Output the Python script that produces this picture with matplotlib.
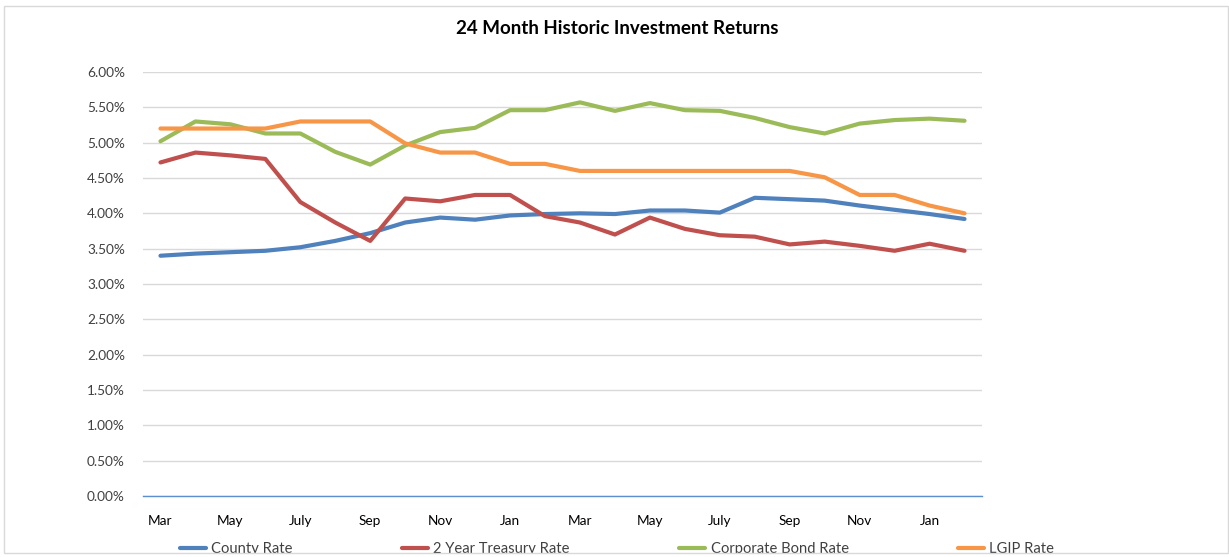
import matplotlib
matplotlib.use("Agg")
import matplotlib.pyplot as plt
from matplotlib.patches import Rectangle
from matplotlib.ticker import PercentFormatter

plt.rcParams['font.family'] = ['Lato', 'DejaVu Sans']

# 24 months, Mar .. Feb of the following year
months = ["Mar", "Apr", "May", "June", "July", "Aug", "Sep", "Oct", "Nov", "Dec", "Jan", "Feb",
          "Mar", "Apr", "May", "June", "July", "Aug", "Sep", "Oct", "Nov", "Dec", "Jan", "Feb"]

county = [3.40, 3.43, 3.45, 3.47, 3.52, 3.61, 3.72, 3.87, 3.94, 3.91, 3.97, 3.99,
          4.00, 3.99, 4.04, 4.04, 4.01, 4.22, 4.20, 4.18, 4.11, 4.05, 3.99, 3.92]
treasury = [4.72, 4.86, 4.82, 4.77, 4.16, 3.87, 3.61, 4.21, 4.17, 4.26, 4.26, 3.96,
            3.87, 3.70, 3.94, 3.78, 3.69, 3.67, 3.56, 3.60, 3.54, 3.47, 3.57, 3.47]
corporate = [5.02, 5.30, 5.26, 5.13, 5.13, 4.87, 4.69, 4.96, 5.15, 5.21, 5.46, 5.46,
             5.57, 5.45, 5.56, 5.46, 5.45, 5.35, 5.22, 5.13, 5.27, 5.32, 5.34, 5.31]
lgip = [5.20, 5.20, 5.20, 5.20, 5.30, 5.30, 5.30, 4.99, 4.86, 4.86, 4.70, 4.70,
        4.60, 4.60, 4.60, 4.60, 4.60, 4.60, 4.60, 4.51, 4.26, 4.26, 4.11, 4.00]

series = [("County Rate", county, "#4f81bd"),
          ("2 Year Treasury Rate", treasury, "#c0504d"),
          ("Corporate Bond Rate", corporate, "#9bbb59"),
          ("LGIP Rate", lgip, "#f79646")]

fig = plt.figure(figsize=(12.29, 5.57), dpi=100)
ax = fig.add_axes([143/1229, 1 - 496/557, (982 - 143)/1229, (496 - 72)/557])

x = list(range(len(months)))
for name, vals, col in series:
    ax.plot(x, vals, color=col, lw=3, label=name, solid_capstyle="round", zorder=3)

ax.set_xlim(-0.5, len(months) - 0.5)
ax.set_ylim(0, 6)
ax.set_yticks([i * 0.5 for i in range(13)])
ax.yaxis.set_major_formatter(PercentFormatter(decimals=2))
ax.set_xticks(x[::2])
ax.set_xticklabels(months[::2])
ax.grid(axis="y", color="#d9d9d9", lw=1)
ax.set_axisbelow(True)
for s in ["top", "right", "left"]:
    ax.spines[s].set_visible(False)
ax.spines["bottom"].set_color("#5b8fd0")
ax.spines["bottom"].set_linewidth(1)
ax.tick_params(axis="both", length=0)
ax.tick_params(axis="y", pad=13, labelsize=9.8, labelcolor="#404040")
ax.tick_params(axis="x", pad=14, labelsize=9.8, labelcolor="#000000")

fig.text(617/1229, 1 - 29/557, "24 Month Historic Investment Returns",
         ha="center", va="center", fontsize=13.5, fontweight="bold")

fig.legend(loc="center", bbox_to_anchor=(617/1229, 1 - 549/557), ncol=4, frameon=False,
           fontsize=10.6, handlelength=1.8, handletextpad=0.35, columnspacing=7.4,
           labelcolor="#404040")

# chart frame, bottom edge cuts the legend like the original
fig.patches.append(Rectangle((0, 0), 1, 4/557, transform=fig.transFigure,
                             facecolor="white", edgecolor="none", zorder=10))
fig.patches.append(Rectangle((4/1229, 4/557), 1224/1229, 547/557, transform=fig.transFigure,
                             facecolor="none", edgecolor="#d9d9d9", lw=1, zorder=11))

fig.savefig("out.png", dpi=100)
